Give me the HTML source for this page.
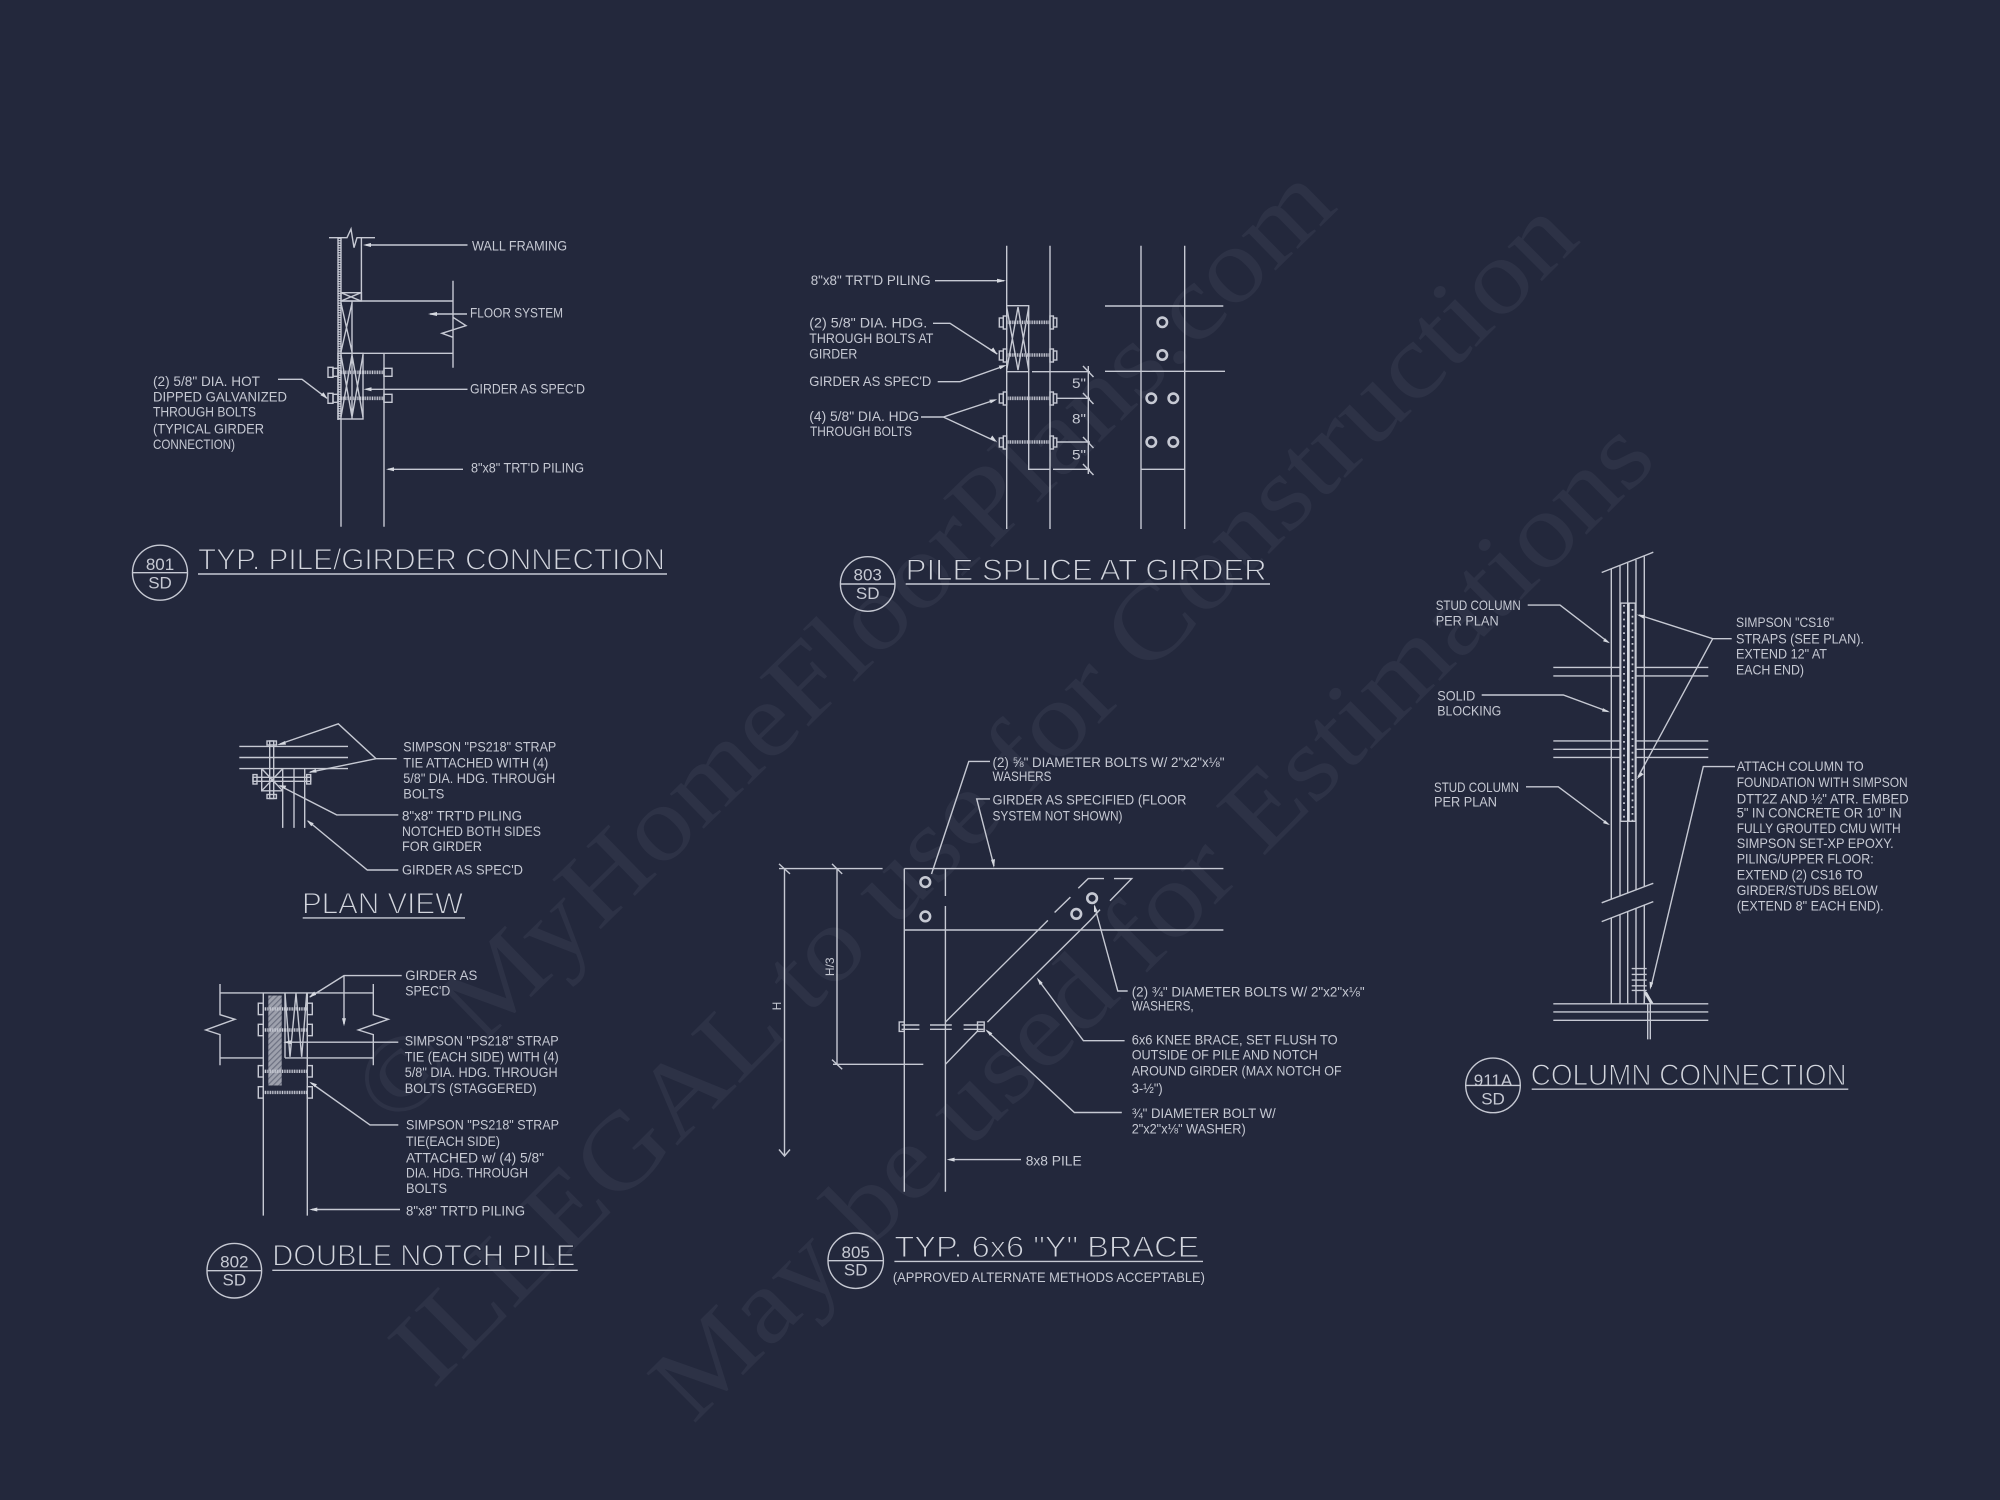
<!DOCTYPE html>
<html lang="en">
<head>
<meta charset="utf-8">
<title>Structural Details</title>
<style>
html,body{margin:0;padding:0;background:#23283c;}
svg{display:block;}
.l{fill:none;stroke:#c6c9d3;stroke-width:1.4;}
.a{fill:#d5d8df;stroke:none;}
text{font-family:"Liberation Sans",sans-serif;}
.t text{fill:#c6c9d3;font-size:14px;}
.h text{fill:#d2d5dd;font-size:30px;stroke:#23283c;stroke-width:1.1px;font-family:"Liberation Sans",sans-serif;}
.c text{fill:#c6c9d3;font-size:17px;text-anchor:middle;}
.w text{fill:#2d3246;font-family:"Liberation Serif",serif;font-size:106px;}
</style>
</head>
<body>
<svg xmlns="http://www.w3.org/2000/svg" width="2000" height="1500" viewBox="0 0 2000 1500">
<rect width="2000" height="1500" fill="#23283c"/>

<g class="w">
<text transform="translate(395,1130) rotate(-44.3)" textLength="1320" lengthAdjust="spacingAndGlyphs">© MyHomeFloorPlans.com</text>
<text transform="translate(433,1390) rotate(-45)" textLength="1625" lengthAdjust="spacingAndGlyphs">ILLEGAL to use for Construction</text>
<text transform="translate(693,1425) rotate(-44.9)" textLength="1364" lengthAdjust="spacingAndGlyphs">May be used for Estimations</text>
</g>

<!-- 801 -->
<g class="l">
<path d="M329 237.7H347L351 229L354 247.7L357 237.7H375"/>
<path d="M338 237.7V420M341 237.7V526.7M384 353.3V526.7M361.4 237.7V301M341 301H453M453 280.7V367.7M453 317.3L466 325.7L442 333.3L453 337.3M341 353.3H453"/>
<rect x="341" y="292.7" width="20.4" height="8.3"/>
<path d="M341 292.7L361 301M361 292.7L341 301M352 301V353.3M341 303L352 352M352 303L341 352"/>
<rect x="338" y="353.3" width="25" height="65.7"/>
<path d="M352 353.3V419M341 355L352 417M352 355L363 417M363 355L352 417M352 355L341 417"/>
<rect x="328" y="367.3" width="5" height="10"/><rect x="333" y="368.3" width="5" height="8"/><rect x="384" y="368.3" width="8" height="8"/>
<rect x="328" y="393.3" width="5" height="10"/><rect x="333" y="394.3" width="5" height="8"/><rect x="384" y="394.3" width="8" height="8"/>
<path d="M278 379.3H302L327 398.3M467.5 245H366M467 314H430M467.5 389.3H366M463 469.3H388"/>
</g>
<path d="M339.5 237.7V420" stroke="#c6c9d3" stroke-width="2.4" stroke-dasharray="1.2 1.2" fill="none"/>
<path d="M338 372.3H384M338 398.3H384" stroke="#c6c9d3" stroke-width="3.6" stroke-dasharray="1 .7" fill="none"/>
<path class="a" d="M363 245l8-2v4zM428 314l9-2v4zM363.5 389.3l8-2v4zM386 469.3l8-2v4zM327.5 398.8l-7-3.5 3-3z"/>
<g class="t">
<text x="472" y="250.7" textLength="95" lengthAdjust="spacingAndGlyphs">WALL FRAMING</text>
<text x="470" y="317.7" textLength="93" lengthAdjust="spacingAndGlyphs">FLOOR SYSTEM</text>
<text x="470" y="393.3" textLength="115" lengthAdjust="spacingAndGlyphs">GIRDER AS SPEC'D</text>
<text x="471" y="472.7" textLength="113" lengthAdjust="spacingAndGlyphs">8"x8" TRT'D PILING</text>
<text x="153" y="386" textLength="107" lengthAdjust="spacingAndGlyphs">(2) 5/8" DIA. HOT</text>
<text x="153" y="401.7" textLength="134" lengthAdjust="spacingAndGlyphs">DIPPED GALVANIZED</text>
<text x="153" y="416.7" textLength="103" lengthAdjust="spacingAndGlyphs">THROUGH BOLTS</text>
<text x="153" y="433.3" textLength="111" lengthAdjust="spacingAndGlyphs">(TYPICAL GIRDER</text>
<text x="153" y="449" textLength="82" lengthAdjust="spacingAndGlyphs">CONNECTION)</text>
</g>
<g class="h"><text x="198" y="569.3" textLength="467" lengthAdjust="spacingAndGlyphs">TYP. PILE/GIRDER CONNECTION</text></g>
<path class="l" d="M198 574H667"/>
<circle class="l" cx="160" cy="572.7" r="27.5"/><path class="l" d="M132.5 572.7H187.5"/>
<g class="c"><text x="160" y="570">801</text><text x="160" y="588.3">SD</text></g>

<!-- 803 -->
<g class="l">
<path d="M1006.7 245.7V529M1050 245.7V529M1006.7 305.7H1028.7V469.3H1050M1006.7 371.7H1028.7"/>
<path d="M1006.7 307L1018 370M1018 307L1006.7 370M1018 307L1028.7 370M1028.7 307L1018 370"/>
<path d="M1032 371.7H1090M1056.7 398.3H1090M1056.7 442H1090M1053 469.3H1090M1088.3 366V474"/>
<path d="M1083 366L1093.5 377M1083 393L1093.5 404M1083 437L1093.5 448M1083 464L1093.5 475"/>
<path d="M935 280.7H1004M933 323.3H950L997.3 354M937.7 381.7H960L1004 366M921 417H943.3L995 400M943.3 417L995 441"/>
<path d="M1141 245.7V529M1184.7 245.7V529M1105 306H1223.3M1105 371.3H1225M1141 469.3H1184.7"/>
<rect x="999.3" y="318" width="4" height="9"/><rect x="1003.3" y="316" width="3.4" height="13"/><rect x="1050" y="316" width="3.4" height="13"/><rect x="1053.4" y="318" width="3.4" height="9"/>
<rect x="999.3" y="351" width="4" height="9"/><rect x="1003.3" y="349" width="3.4" height="13"/><rect x="1050" y="349" width="3.4" height="13"/><rect x="1053.4" y="351" width="3.4" height="9"/>
<rect x="999.3" y="394" width="4" height="9"/><rect x="1003.3" y="392" width="3.4" height="13"/><rect x="1050" y="392" width="3.4" height="13"/><rect x="1053.4" y="394" width="3.4" height="9"/>
<rect x="999.3" y="438" width="4" height="9"/><rect x="1003.3" y="436" width="3.4" height="13"/><rect x="1050" y="436" width="3.4" height="13"/><rect x="1053.4" y="438" width="3.4" height="9"/>
</g>
<path d="M1006.7 322.3H1050M1006.7 355H1050M1006.7 398.3H1050M1006.7 442H1050" stroke="#c6c9d3" stroke-width="3.6" stroke-dasharray="1 .7" fill="none"/>
<path class="a" d="M1006 280.7l-9-2v4zM997.3 354.5l-7-4 3-3zM1006.7 365l-8 .6 1.5 3.6zM997.3 399.3l-8 .5 1.4 3.6zM997.3 442.5l-7-4 2-3z"/>
<g fill="none" stroke="#c6c9d3" stroke-width="2.6">
<circle cx="1162.3" cy="322.3" r="4.7"/><circle cx="1162.3" cy="355" r="4.7"/>
<circle cx="1151.3" cy="398.3" r="4.7"/><circle cx="1173.3" cy="398.3" r="4.7"/>
<circle cx="1151.3" cy="442" r="4.7"/><circle cx="1173.3" cy="442" r="4.7"/>
</g>
<g class="t">
<text x="1072" y="388" textLength="14" lengthAdjust="spacingAndGlyphs">5"</text>
<text x="1072" y="423.3" textLength="14" lengthAdjust="spacingAndGlyphs">8"</text>
<text x="1072" y="459.3" textLength="14" lengthAdjust="spacingAndGlyphs">5"</text>
<text x="810.7" y="285" textLength="120" lengthAdjust="spacingAndGlyphs">8"x8" TRT'D PILING</text>
<text x="809.3" y="327.7" textLength="118" lengthAdjust="spacingAndGlyphs">(2) 5/8" DIA.  HDG.</text>
<text x="809.3" y="343" textLength="124" lengthAdjust="spacingAndGlyphs">THROUGH BOLTS AT</text>
<text x="809.3" y="358.3" textLength="48" lengthAdjust="spacingAndGlyphs">GIRDER</text>
<text x="809.3" y="386" textLength="122" lengthAdjust="spacingAndGlyphs">GIRDER AS SPEC'D</text>
<text x="809.3" y="421" textLength="110" lengthAdjust="spacingAndGlyphs">(4) 5/8" DIA. HDG</text>
<text x="810" y="436" textLength="102" lengthAdjust="spacingAndGlyphs">THROUGH BOLTS</text>
</g>
<g class="h"><text x="905.7" y="580" textLength="361" lengthAdjust="spacingAndGlyphs">PILE SPLICE AT GIRDER</text></g>
<path class="l" d="M905.7 584H1270"/>
<circle class="l" cx="867.7" cy="584" r="27.3"/><path class="l" d="M840.4 584H895"/>
<g class="c"><text x="867.7" y="580.7">803</text><text x="867.7" y="599">SD</text></g>

<!-- Plan view -->
<g class="l">
<path d="M239.3 746.4H348M239.3 757.5H348M239.3 768.6H348M282.7 768.6V827.9M294 768.6V827.9M304.7 768.6V827.9"/>
<path d="M261.7 768.6V790.8H282.7M261.7 768.6L282.7 790.8M282.7 768.6L261.7 790.8"/>
<rect x="269.7" y="741" width="4" height="57.5"/>
<rect x="267" y="741" width="9.4" height="4"/><rect x="267" y="794.5" width="9.4" height="4"/>
<rect x="253" y="777.3" width="57.7" height="4"/>
<rect x="253" y="774.6" width="4" height="9.4"/><rect x="306.7" y="774.6" width="4" height="9.4"/>
<path d="M396.7 758.7H376L338.3 723.8L280 744M376 758.7L310 772.2M398.3 814.9H336.7L280 785.9M398.3 870H367.3L308 821"/>
</g>
<path class="a" d="M277 745l8-4 1 3.6zM308.3 772.4l7.6-3.4.7 3.6zM278.3 785.1l8 .5-1.5 3.5zM306.7 820.3l7 3-2.4 3z"/>
<g class="t">
<text x="403.3" y="751.4" textLength="153" lengthAdjust="spacingAndGlyphs">SIMPSON "PS218" STRAP</text>
<text x="403.3" y="767.5" textLength="145" lengthAdjust="spacingAndGlyphs">TIE ATTACHED WITH (4)</text>
<text x="403.3" y="783.1" textLength="152" lengthAdjust="spacingAndGlyphs">5/8" DIA. HDG. THROUGH</text>
<text x="403.3" y="798.5" textLength="41" lengthAdjust="spacingAndGlyphs">BOLTS</text>
<text x="402" y="820.3" textLength="120" lengthAdjust="spacingAndGlyphs">8"x8" TRT'D PILING</text>
<text x="402" y="836" textLength="139" lengthAdjust="spacingAndGlyphs">NOTCHED BOTH SIDES</text>
<text x="402" y="850.9" textLength="80" lengthAdjust="spacingAndGlyphs">FOR GIRDER</text>
<text x="402" y="874.6" textLength="121" lengthAdjust="spacingAndGlyphs">GIRDER AS SPEC'D</text>
</g>
<g class="h"><text x="302" y="913.6" textLength="161" lengthAdjust="spacingAndGlyphs">PLAN VIEW</text></g>
<path class="l" d="M302.7 917.9H465"/>

<!-- 802 -->
<defs>
<pattern id="hx" width="4" height="4" patternUnits="userSpaceOnUse" patternTransform="rotate(-45)">
<rect width="4" height="4" fill="#c6c9d3" opacity=".75"/><rect width="4" height="1.2" fill="#6d7182"/>
</pattern>
</defs>
<rect x="268.3" y="995.5" width="13.4" height="90" fill="url(#hx)"/>
<g class="l">
<path d="M263.3 992.9V1215.6M307.3 992.9V1215.6M220 992.9H373.3M220 1057.9H263.3M285 1057.9H373.3M285 992.9V1057.9"/>
<path d="M220 984V1014.7L235 1019.3L205.7 1030L220 1034.6V1065.2M373.3 984V1014.7L388.3 1019.3L358.3 1030L373.3 1034.6V1065.2"/>
<path d="M285 993.6L290 1056.8L296 993.6L301.7 1056.8L306.7 993.6"/>
<rect x="258.3" y="1003.2" width="5" height="11.4"/><rect x="307.3" y="1003.2" width="5" height="11.4"/>
<rect x="258.3" y="1024.3" width="5" height="11.4"/><rect x="307.3" y="1024.3" width="5" height="11.4"/>
<rect x="258.3" y="1065.6" width="5" height="11.4"/><rect x="307.3" y="1065.6" width="5" height="11.4"/>
<rect x="258.3" y="1086.7" width="5" height="11.4"/><rect x="307.3" y="1086.7" width="5" height="11.4"/>
<path d="M401.7 975.6H344L310 997M344 975.6V1024M398.3 1042.2H285M398.3 1124.9H370L311 1083M400 1209.5H312"/>
</g>
<path d="M263.3 1008.9H307.3M263.3 1030H307.3M263.3 1071.3H307.3M263.3 1092.4H307.3" stroke="#c6c9d3" stroke-width="3.4" stroke-dasharray="1 .7" fill="none"/>
<path class="a" d="M308.7 997.5l5.5-6 2 3.4zM344 1026.2l-2-8h4zM283.3 1042.2l8-2v4zM309.3 1081.7l7.6 2.5-2 3zM309.3 1209.5l8-2v4z"/>
<g class="t">
<text x="405.3" y="980.2" textLength="72" lengthAdjust="spacingAndGlyphs">GIRDER AS</text>
<text x="405.3" y="995.5" textLength="45" lengthAdjust="spacingAndGlyphs">SPEC'D</text>
<text x="404.7" y="1045.3" textLength="154" lengthAdjust="spacingAndGlyphs">SIMPSON "PS218" STRAP</text>
<text x="404.7" y="1061.7" textLength="154" lengthAdjust="spacingAndGlyphs">TIE (EACH SIDE) WITH (4)</text>
<text x="404.7" y="1077" textLength="153" lengthAdjust="spacingAndGlyphs">5/8" DIA. HDG. THROUGH</text>
<text x="404.7" y="1093.1" textLength="132" lengthAdjust="spacingAndGlyphs">BOLTS (STAGGERED)</text>
<text x="406" y="1129.5" textLength="153" lengthAdjust="spacingAndGlyphs">SIMPSON "PS218" STRAP</text>
<text x="406" y="1145.9" textLength="94" lengthAdjust="spacingAndGlyphs">TIE(EACH SIDE)</text>
<text x="406" y="1162.4" textLength="138" lengthAdjust="spacingAndGlyphs">ATTACHED w/ (4) 5/8"</text>
<text x="406" y="1177.3" textLength="122" lengthAdjust="spacingAndGlyphs">DIA. HDG. THROUGH</text>
<text x="406" y="1193" textLength="41" lengthAdjust="spacingAndGlyphs">BOLTS</text>
<text x="406" y="1215.6" textLength="119" lengthAdjust="spacingAndGlyphs">8"x8" TRT'D PILING</text>
</g>
<g class="h"><text x="272.3" y="1265.7" textLength="303" lengthAdjust="spacingAndGlyphs">DOUBLE NOTCH PILE</text></g>
<path class="l" d="M272.3 1270.3H577.7"/>
<circle class="l" cx="234.3" cy="1270.7" r="27.3"/><path class="l" d="M207 1270.7H261.6"/>
<g class="c"><text x="234.3" y="1267.3">802</text><text x="234.3" y="1285.3">SD</text></g>

<!-- 805 -->
<g class="l">
<path d="M904.3 868.6V1191.8M945.4 930V1191.8M904.3 868.6H1223.4M904.3 930H1223.4"/>
<path d="M945.4 868.6V896M945.4 906V930"/>
<path d="M945.4 1022.1L1047.9 920.4M1054.6 912.5L1070.4 897.1M1078.3 888.2L1088.2 878.6H1104M1114 878.6H1131.7L1110 900.7M1100 909.6L1090.2 920.4L987.4 1022.1M977.5 1031.1L945.4 1064.3"/>
<path d="M901.6 1025H919.4M901.6 1029.3H919.4M930 1025H951.8M930 1029.3H951.8M963.6 1025H983.4M963.6 1029.3H983.4"/>
<rect x="899.2" y="1022" width="5" height="9.4"/><rect x="977.5" y="1022" width="6.7" height="9.4"/>
<path d="M784.5 868.6V1156M779 1149.5L784.5 1156L790 1149.5M837 868.6V1064.3M779 868.6H882.6M833 1064.3H923.3"/>
<path d="M779 863.9L790 873.9M832 863.9L842.2 873.9M832 1059.6L842.2 1069.3"/>
<path d="M990 761.4H968.8L931.5 874M990 798.9H976.7L994 866M1127.7 991H1117.8L1094.5 906M1124.6 1040.7H1083.4L1038 979.5M1121.8 1112.5H1074.4L987 1031M1021 1159.6H949"/>
</g>
<g fill="none" stroke="#c6c9d3" stroke-width="2.6">
<circle cx="925.3" cy="882.1" r="4.8"/><circle cx="925.3" cy="916.4" r="4.8"/>
<circle cx="1092.1" cy="898.2" r="4.8"/><circle cx="1076.3" cy="913.9" r="4.8"/>
</g>
<path class="a" d="M994 867.9l-3-8 4-.8zM1094 904.3l3.6 7-3.6 1zM1036.8 977.5l6 5.5-3 2zM985.4 1029.3l7 4-2.5 2.5zM946.6 1159.6l8-2v4z"/>
<g class="t">
<text x="992.5" y="766.8" textLength="232" lengthAdjust="spacingAndGlyphs">(2) ⅝" DIAMETER BOLTS W/ 2"x2"x⅛"</text>
<text x="992.5" y="781.1" textLength="59" lengthAdjust="spacingAndGlyphs">WASHERS</text>
<text x="992.5" y="804.3" textLength="194" lengthAdjust="spacingAndGlyphs">GIRDER AS SPECIFIED (FLOOR</text>
<text x="992.5" y="820.4" textLength="130" lengthAdjust="spacingAndGlyphs">SYSTEM NOT SHOWN)</text>
<text x="1131.7" y="996.4" textLength="233" lengthAdjust="spacingAndGlyphs">(2) ¾" DIAMETER BOLTS W/ 2"x2"x⅛"</text>
<text x="1131.7" y="1010.7" textLength="62" lengthAdjust="spacingAndGlyphs">WASHERS,</text>
<text x="1131.7" y="1044.6" textLength="206" lengthAdjust="spacingAndGlyphs">6x6 KNEE BRACE, SET FLUSH TO</text>
<text x="1131.7" y="1059.6" textLength="186" lengthAdjust="spacingAndGlyphs">OUTSIDE OF PILE AND NOTCH</text>
<text x="1131.7" y="1075.7" textLength="210" lengthAdjust="spacingAndGlyphs">AROUND GIRDER (MAX NOTCH OF</text>
<text x="1131.7" y="1092.9" textLength="31" lengthAdjust="spacingAndGlyphs">3-½")</text>
<text x="1131.7" y="1117.9" textLength="144" lengthAdjust="spacingAndGlyphs">¾" DIAMETER BOLT W/</text>
<text x="1131.7" y="1133.6" textLength="114" lengthAdjust="spacingAndGlyphs">2"x2"x⅛" WASHER)</text>
<text x="1025.7" y="1165.7" textLength="56" lengthAdjust="spacingAndGlyphs">8x8 PILE</text>
<text transform="translate(781,1006) rotate(-90)" text-anchor="middle" style="font-size:12px">H</text>
<text transform="translate(834,966.8) rotate(-90)" text-anchor="middle" style="font-size:12px">H/3</text>
<text x="892.9" y="1281.8" textLength="312" lengthAdjust="spacingAndGlyphs">(APPROVED ALTERNATE METHODS ACCEPTABLE)</text>
</g>
<g class="h"><text x="894.4" y="1256.8" textLength="305" lengthAdjust="spacingAndGlyphs">TYP. 6x6 "Y" BRACE</text></g>
<path class="l" d="M894.4 1261.4H1203" stroke-width="1.8"/>
<circle class="l" cx="855.7" cy="1260.7" r="27.7"/><path class="l" d="M828 1260.7H883.4"/>
<g class="c"><text x="855.7" y="1257.9">805</text><text x="855.7" y="1275.7">SD</text></g>

<!-- 911A -->
<g class="l">
<path d="M1601.7 572.5L1653.3 552.2M1601.7 902.8L1653.3 883.3M1601.7 921.6L1653.3 901.6"/>
<path d="M1611.3 568.7V899.2M1620 565.6V895.9M1627.7 563V893M1636 559.9V889.8M1644.3 556.5V886.7"/>
<path d="M1611.3 918V1003.8M1620 914.7V1003.8M1627.7 911.8V1003.8M1636 908.6V1003.8M1644.3 905.5V1003.8"/>
<path d="M1553.3 667.4H1708.3M1553.3 675.9H1708.3M1553.3 740.9H1708.3M1553.3 749.3H1708.3M1553.3 757.4H1708.3M1553.3 1003.8H1708.3M1553.3 1011.9H1708.3M1553.3 1020.3H1708.3"/>
</g>
<rect x="1620.7" y="603.1" width="14.6" height="218.2" fill="#23283c" stroke="#c6c9d3" stroke-width="1.4"/>
<path d="M1627.7 603.1V821.3M1629 603.1V821.3" stroke="#d5d8df" stroke-width="1.4" fill="none"/>
<path d="M1624 605V821M1632.5 609V821" stroke="#c6c9d3" stroke-width="1.8" stroke-dasharray="1.8 5" fill="none"/>
<g class="l">
<path d="M1631.7 968.6H1646.7M1631.7 974.4H1646.7M1631.7 980.1H1646.7M1631.7 985.8H1646.7M1631.7 990.4H1646.7"/>
<path d="M1645 991.6L1653 1003.8H1644ZM1647.7 1003.8V1039.4M1650.3 1003.8V1039.4"/>
<path d="M1527.7 605.1H1560L1608 642M1481.7 695H1563.3L1608 711.5M1526 786.8H1558.3L1608 824M1731.7 638.7H1712.7L1639 615M1712.7 638.7L1638 777M1735 766.6H1703.3L1651 987"/>
</g>
<path class="a" d="M1610 643.3l-7-2 2-3zM1610 712.2l-8-.7 1-3.4zM1610 825.1l-7-2 2-3zM1636.7 614.6l8 .4-1 3.6zM1636.7 779.2l4-7 3 2zM1650 989.7l-.4-8 3.6 1z"/>
<path d="M1645.5 992.5L1651.5 1003" stroke="#d5d8df" stroke-width="3" fill="none"/>
<g class="t">
<text x="1435.7" y="610" textLength="85" lengthAdjust="spacingAndGlyphs">STUD COLUMN</text>
<text x="1435.7" y="625.3" textLength="63" lengthAdjust="spacingAndGlyphs">PER PLAN</text>
<text x="1437.3" y="700.7" textLength="38" lengthAdjust="spacingAndGlyphs">SOLID</text>
<text x="1437.3" y="715.3" textLength="64" lengthAdjust="spacingAndGlyphs">BLOCKING</text>
<text x="1434" y="791.8" textLength="85" lengthAdjust="spacingAndGlyphs">STUD COLUMN</text>
<text x="1434" y="806.7" textLength="63" lengthAdjust="spacingAndGlyphs">PER PLAN</text>
<text x="1736" y="626.9" textLength="98" lengthAdjust="spacingAndGlyphs">SIMPSON "CS16"</text>
<text x="1736" y="643.3" textLength="128" lengthAdjust="spacingAndGlyphs">STRAPS (SEE PLAN).</text>
<text x="1736" y="658.6" textLength="91" lengthAdjust="spacingAndGlyphs">EXTEND 12" AT</text>
<text x="1736" y="674.7" textLength="68" lengthAdjust="spacingAndGlyphs">EACH END)</text>
<text x="1736.7" y="771.2" textLength="127" lengthAdjust="spacingAndGlyphs">ATTACH COLUMN TO</text>
<text x="1736.7" y="786.8" textLength="171" lengthAdjust="spacingAndGlyphs">FOUNDATION WITH SIMPSON</text>
<text x="1736.7" y="803.3" textLength="172" lengthAdjust="spacingAndGlyphs">DTT2Z AND ½" ATR. EMBED</text>
<text x="1736.7" y="817.5" textLength="165" lengthAdjust="spacingAndGlyphs">5" IN CONCRETE OR 10" IN</text>
<text x="1736.7" y="832.8" textLength="164" lengthAdjust="spacingAndGlyphs">FULLY GROUTED CMU WITH</text>
<text x="1736.7" y="848.1" textLength="157" lengthAdjust="spacingAndGlyphs">SIMPSON SET-XP EPOXY.</text>
<text x="1736.7" y="863.4" textLength="137" lengthAdjust="spacingAndGlyphs">PILING/UPPER FLOOR:</text>
<text x="1736.7" y="879.5" textLength="126" lengthAdjust="spacingAndGlyphs">EXTEND (2) CS16 TO</text>
<text x="1736.7" y="895.1" textLength="141" lengthAdjust="spacingAndGlyphs">GIRDER/STUDS BELOW</text>
<text x="1736.7" y="910.5" textLength="147" lengthAdjust="spacingAndGlyphs">(EXTEND 8" EACH END).</text>
</g>
<g class="h"><text x="1530.7" y="1085" textLength="316" lengthAdjust="spacingAndGlyphs">COLUMN CONNECTION</text></g>
<path class="l" d="M1531.7 1089.2H1848.3"/>
<circle class="l" cx="1493" cy="1085.4" r="27.3"/><path class="l" d="M1465.7 1085.4H1520.3"/>
<g class="c"><text x="1493" y="1086.1">911A</text><text x="1493" y="1104.5">SD</text></g>
</svg>
</body>
</html>
